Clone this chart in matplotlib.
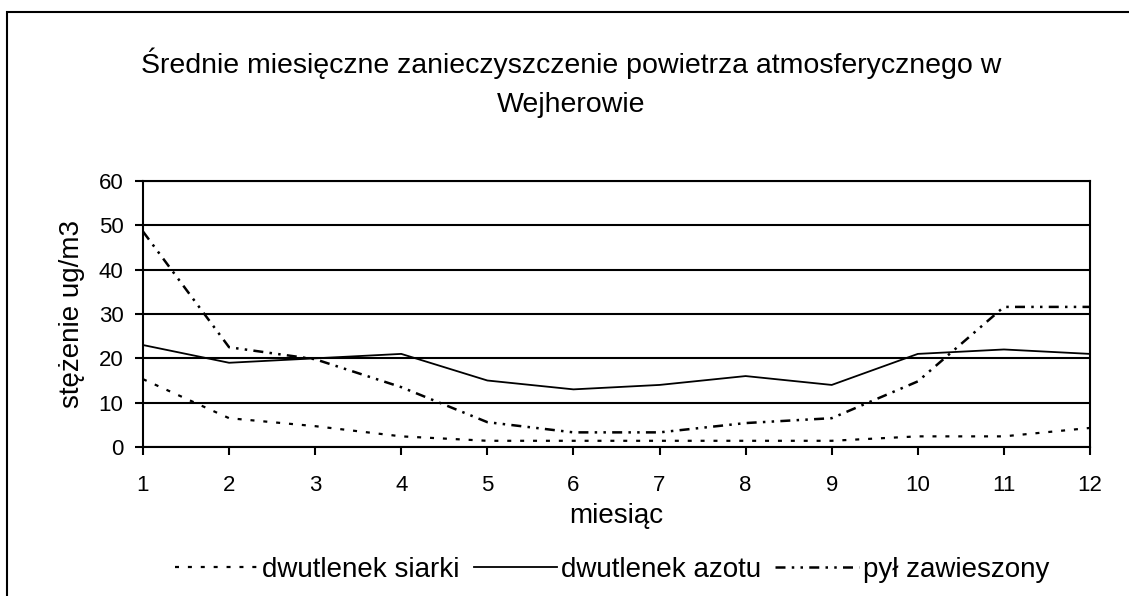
import matplotlib.pyplot as plt
from matplotlib.patches import Rectangle

plt.rcParams['font.family'] = ['Liberation Sans', 'DejaVu Sans']

miesiace = [1, 2, 3, 4, 5, 6, 7, 8, 9, 10, 11, 12]
siarka = [15.3, 6.5, 4.7, 2.4, 1.4, 1.4, 1.4, 1.4, 1.4, 2.4, 2.4, 4.3]
azot = [23, 19, 20, 21, 15, 13, 14, 16, 14, 21, 22, 21]
pyl = [48.6, 22.5, 19.8, 13.5, 5.6, 3.3, 3.3, 5.4, 6.5, 14.8, 31.6, 31.6]

fig = plt.figure(figsize=(11.29, 5.96), dpi=100)
# ramka wokol wykresu
fig.patches.append(Rectangle((7/1129, -0.1), 1.2, 1 - 12/596 + 0.1, transform=fig.transFigure,
                             fill=False, edgecolor='black', linewidth=1.5))

ax = fig.add_axes([143/1129, 1 - 447/596, (1090 - 143)/1129, (447 - 181)/596])

ax.plot(miesiace, siarka, color='black', lw=1.6, linestyle=(0, (1.8, 4)), label='dwutlenek siarki')
ax.plot(miesiace, azot, color='black', lw=1.3, linestyle='-', label='dwutlenek azotu')
ax.plot(miesiace, pyl, color='black', lw=1.8, linestyle=(0, (4, 2.5, 1, 2.5, 1, 2.5)), label='pył zawieszony')

ax.set_xlim(1, 12)
ax.set_ylim(0, 60)
ax.set_xticks(miesiace)
ax.set_yticks(range(0, 61, 10))
ax.yaxis.grid(True, color='black', linewidth=1.5)
ax.set_axisbelow(True)
for s in ax.spines.values():
    s.set_linewidth(1.5)
ax.tick_params(direction='out', length=6, width=1.5, labelsize=16)
ax.tick_params(axis='x', pad=14)
ax.tick_params(axis='y', pad=8)

ax.set_xlabel('miesiąc', fontsize=20, labelpad=5)
ax.set_ylabel('stężenie ug/m3', fontsize=20, labelpad=10)

fig.text(571/1129, 1 - 112/596, 'Średnie miesięczne zanieczyszczenie powietrza atmosferycznego w\nWejherowie',
         ha='center', va='baseline', fontsize=20.5, linespacing=1.65)

ax.legend(loc='center', bbox_to_anchor=(612/1129, 1 - 570/596), bbox_transform=fig.transFigure,
          ncol=3, frameon=False, fontsize=20, handlelength=3.0, handletextpad=0.15,
          columnspacing=0.5)

fig.savefig('out.png', dpi=100)
